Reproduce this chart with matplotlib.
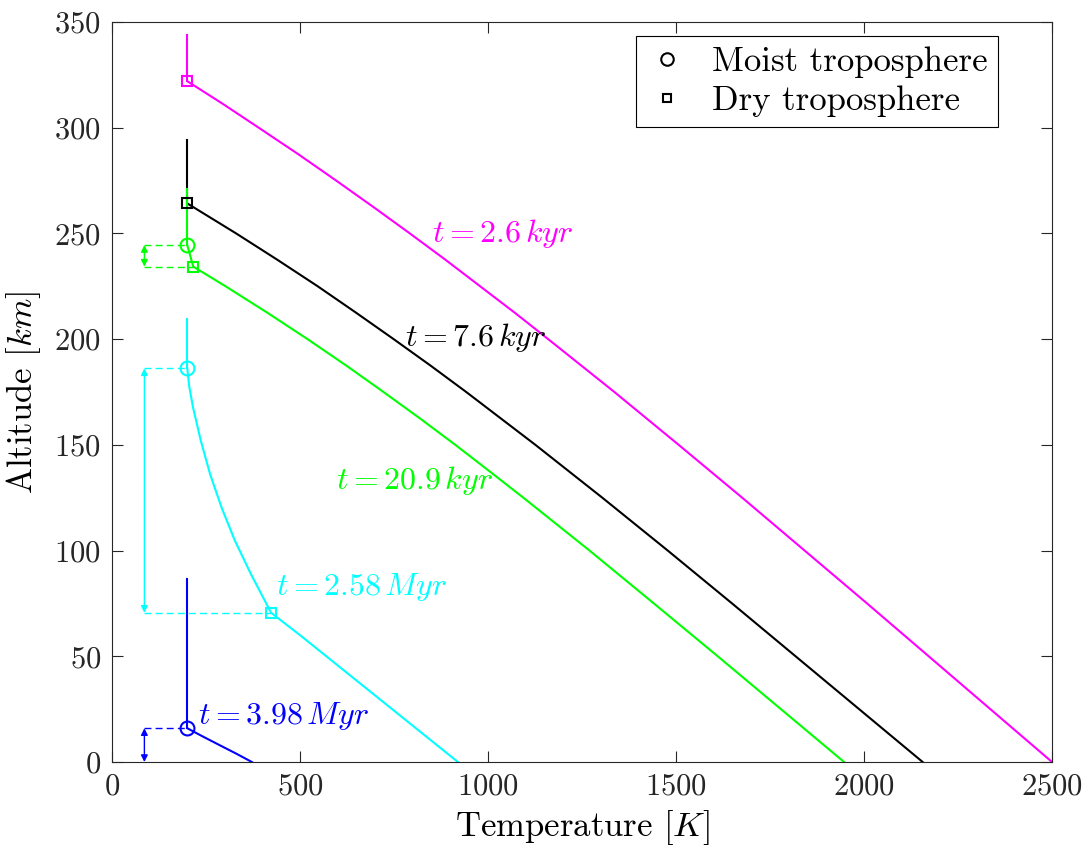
import matplotlib.pyplot as plt
from matplotlib.lines import Line2D

plt.rcParams['font.family'] = 'cmr10'
plt.rcParams['mathtext.fontset'] = 'cm'
plt.rcParams['axes.formatter.use_mathtext'] = True

# temperature [K] / altitude [km] profiles
mag_T = [200, 297, 390, 495, 596, 695, 792, 887, 979, 1071, 1160, 1336, 1507,
         1676, 1842, 2008, 2172, 2336, 2500]
mag_z = [322, 311, 300, 287.5, 275, 262.5, 250, 237.5, 225, 212.5, 200, 175,
         150, 125, 100, 75, 50, 25, 0]
mag_strat = [322, 344]

blk_T = [200, 330, 440, 547, 649, 749, 847, 942, 1034, 1126, 1215, 1304,
         1478, 1649, 1818, 1987, 2156]
blk_z = [264.2, 250, 237.5, 225, 212.5, 200, 187.5, 175, 162.5, 150, 137.5,
         125, 100, 75, 50, 25, 0]
blk_strat = [264.2, 294]

grn_T = [200, 216, 302, 413, 520, 623, 722, 819, 913, 1004, 1094, 1270, 1441,
         1611, 1779, 1947]
grn_z = [244.5, 234.3, 225, 212.5, 200, 187.5, 175, 162.5, 150, 137.5, 125,
         100, 75, 50, 25, 0]
grn_strat = [244.5, 271]

cyn_T = [200, 205, 215, 236, 261, 292, 326, 369, 423, 500, 920]
cyn_z = [186.2, 178, 168, 152, 136, 120, 105, 89, 70.6, 60, 0]
cyn_strat = [186.2, 209.5]

blu_T = [200, 240, 287, 330, 372]
blu_z = [16, 12.2, 7.9, 4, 0]
blu_strat = [16, 86.5]

T_strat = 200
labels = ['$t = 2.6\\,kyr$', '$t = 7.6\\,kyr$', '$t = 20.9\\,kyr$',
          '$t = 2.58\\,Myr$', '$t = 3.98\\,Myr$']
label_xy = [(851, 250), (779, 201), (596, 133), (436, 83), (229, 22)]
colors = ['#ff00ff', 'k', '#00ff00', '#00ffff', '#0000ff']

# tropopause markers: (T, z)
moist_pts = [(200, 244.5), (200, 186.2), (200, 16)]
moist_cols = ['#00ff00', '#00ffff', '#0000ff']
dry_pts = [(200, 322), (200, 264.2), (216, 234.3), (423, 70.6)]
dry_cols = ['#ff00ff', 'k', '#00ff00', '#00ffff']

# troposphere depth markers (dashed guides + double arrows)
arrow_T = 86
depth = [(234.3, 244.5, 216, 200, '#00ff00'),
         (70.6, 186.2, 423, 200, '#00ffff'),
         (0, 16, None, 200, '#0000ff')]

fig = plt.figure(figsize=(10.91, 8.52), dpi=100)
ax = fig.add_axes([0.1027, 0.1056, 0.8616, 0.8686])

profiles = [(mag_T, mag_z, mag_strat), (blk_T, blk_z, blk_strat),
            (grn_T, grn_z, grn_strat), (cyn_T, cyn_z, cyn_strat),
            (blu_T, blu_z, blu_strat)]
for (T, z, strat), c in zip(profiles, colors):
    ax.plot(T, z, color=c, lw=1.5)
    ax.plot([T_strat, T_strat], strat, color=c, lw=1.5)

for (x, y), c in zip(moist_pts, moist_cols):
    ax.plot(x, y, 'o', mfc='none', mec=c, ms=10, mew=1.5)
for (x, y), c in zip(dry_pts, dry_cols):
    ax.plot(x, y, 's', mfc='none', mec=c, ms=7, mew=1.5)

for lo, hi, x_lo, x_hi, c in depth:
    if x_lo is not None:
        ax.plot([arrow_T, x_lo], [lo, lo], '--', color=c, lw=1, dashes=(5, 3))
    ax.plot([arrow_T, x_hi], [hi, hi], '--', color=c, lw=1, dashes=(5, 3))
    ax.annotate('', xy=(arrow_T, lo), xytext=(arrow_T, hi),
                arrowprops=dict(arrowstyle='<|-|>', color=c, lw=1,
                                mutation_scale=10, shrinkA=0, shrinkB=0))

for s, (x, y), c in zip(labels, label_xy, colors):
    ax.text(x, y, s, color=c, fontsize=23, ha='left', va='center')

handles = [Line2D([], [], marker='o', ls='', mfc='none', mec='k', ms=9, mew=1.5),
           Line2D([], [], marker='s', ls='', mfc='none', mec='k', ms=6, mew=1.5)]
leg = ax.legend(handles, ['Moist troposphere', 'Dry troposphere'],
                loc='upper right', bbox_to_anchor=(0.9426, 0.981),
                borderaxespad=0, fontsize=25, fancybox=False,
                edgecolor='k', framealpha=1, handlelength=1.2,
                handletextpad=0.7, borderpad=0.3, labelspacing=0.2)
leg.get_frame().set_linewidth(0.8)

ax.set_xlim(0, 2500)
ax.set_ylim(0, 350)
ax.set_xticks([0, 500, 1000, 1500, 2000, 2500])
ax.set_yticks(range(0, 351, 50))
ax.tick_params(direction='in', length=8, width=0.8, top=True, right=True,
               labelsize=22, colors='#262626', pad=8)
for sp in ax.spines.values():
    sp.set_color('#262626')
    sp.set_linewidth(0.8)

ax.set_xlabel('Temperature $[K]$', fontsize=25, labelpad=5)
ax.set_ylabel('Altitude $[km]$', fontsize=25, labelpad=8)

fig.savefig('out.png', dpi=100)
